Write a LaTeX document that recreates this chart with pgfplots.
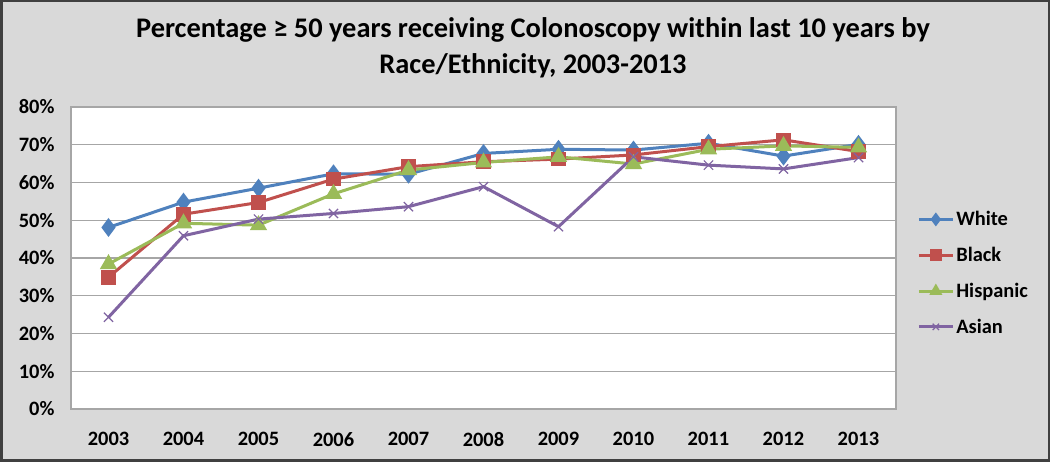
\documentclass[border=0pt]{standalone}
\usepackage{pgfplots}
\pgfplotsset{compat=1.18}
\usepackage{fontspec}
\setmainfont{Carlito}
\definecolor{cWhite}{HTML}{4F81BD}
\definecolor{cBlack}{HTML}{C0504D}
\definecolor{cHisp}{HTML}{9BBB59}
\definecolor{cAsian}{HTML}{8064A2}
\definecolor{bgc}{HTML}{D9D9D9}
\definecolor{gridc}{HTML}{A6A6A6}
\begin{document}
\begin{tikzpicture}
\fill[bgc] (0bp,0bp) rectangle (1050bp,462bp);
\draw[black!75,line width=2.5bp] (1.25bp,1.25bp) rectangle (1048.75bp,460.75bp);
\node[font=\bfseries\fontsize{28.5}{36}\selectfont,anchor=base,inner sep=0pt] at (533bp,424.7bp)
  {Percentage ≥ 50 years receiving Colonoscopy within last 10 years by};
\node[font=\bfseries\fontsize{28.5}{36}\selectfont,anchor=base,inner sep=0pt] at (533bp,388.7bp)
  {Race/Ethnicity, 2003-2013};
\begin{axis}[
  at={(71bp,53bp)}, anchor=south west,
  scale only axis, width=825bp, height=302bp,
  xmin=2002.5, xmax=2013.5, ymin=0, ymax=80,
  xtick={2003,...,2013}, ytick={0,10,...,80},
  /pgf/number format/assume math mode=true,
  xticklabel style={/pgf/number format/1000 sep={}},
  yticklabel={\pgfmathprintnumber{\tick}\%},
  ticklabel style={font=\bfseries\fontsize{20.5}{24}\selectfont},
  xticklabel style={yshift=-20bp},
  yticklabel style={xshift=-13bp},
  major tick length=0pt, tick style={draw=none},
  axis background/.style={fill=white},
  axis line style={draw=gridc, line width=1.2bp},
  xmajorgrids=false, ymajorgrids=true, grid style={draw=gridc, line width=1.2bp},
  legend style={at={(1.022,0.45)}, anchor=west, draw=none, fill=none,
    font=\bfseries\fontsize{20.5}{24}\selectfont, row sep=16bp},
  legend cell align=left,
  legend image code/.code={
    \draw[mark repeat=2,mark phase=2,mark size=4.5bp] plot coordinates {(0bp,0bp) (17bp,0bp) (34bp,0bp)};},
  every axis plot/.append style={line width=3bp},
]
\addplot[cWhite, mark=diamond*, mark size=7bp, mark options={solid}] coordinates {
(2003,48.1) (2004,54.8) (2005,58.5) (2006,62.3) (2007,62.2) (2008,67.7)
(2009,68.8) (2010,68.6) (2011,70.4) (2012,67.0) (2013,70.1)};
\addlegendentry{White}
\addplot[cBlack, mark=square*, mark size=5.8bp, mark options={solid}] coordinates {
(2003,34.9) (2004,51.6) (2005,54.7) (2006,60.9) (2007,64.2) (2008,65.5)
(2009,66.2) (2010,67.3) (2011,69.5) (2012,71.3) (2013,68.2)};
\addlegendentry{Black}
\addplot[cHisp, mark=triangle*, mark size=7bp, mark options={solid}] coordinates {
(2003,38.4) (2004,49.2) (2005,48.7) (2006,57.0) (2007,63.3) (2008,65.3)
(2009,66.8) (2010,64.9) (2011,68.8) (2012,69.7) (2013,69.3)};
\addlegendentry{Hispanic}
\addplot[cAsian, mark=x, mark size=6.5bp, mark options={solid,line width=1.2bp}] coordinates {
(2003,24.3) (2004,45.9) (2005,50.3) (2006,51.8) (2007,53.6) (2008,58.9)
(2009,48.3) (2010,66.8) (2011,64.6) (2012,63.6) (2013,66.6)};
\addlegendentry{Asian}
\end{axis}
\useasboundingbox (0bp,0bp) rectangle (1050bp,462bp);
\end{tikzpicture}
\end{document}
